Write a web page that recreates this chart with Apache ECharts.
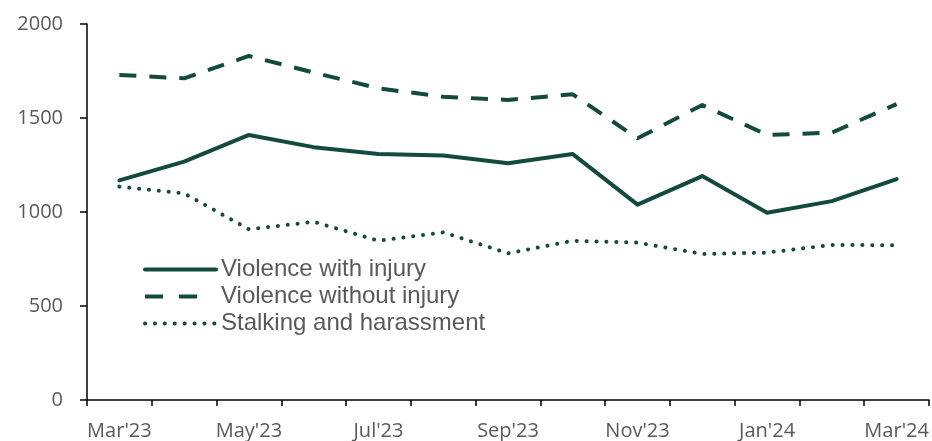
<!DOCTYPE html>
<html>
<head>
<meta charset="utf-8">
<script src="https://cdn.jsdelivr.net/npm/echarts@6/dist/echarts.min.js"></script>
<style>
html,body{margin:0;padding:0;background:#fff;}
#chart{width:932px;height:441px;}
</style>
</head>
<body>
<div id="chart"></div>
<script>
const categories = ["Mar'23","Apr'23","May'23","Jun'23","Jul'23","Aug'23","Sep'23","Oct'23","Nov'23","Dec'23","Jan'24","Feb'24","Mar'24"];
const violenceWithInjury = [1168, 1268, 1410, 1345, 1308, 1300, 1259, 1308, 1039, 1191, 996, 1058, 1175];
const violenceWithoutInjury = [1729, 1711, 1830, 1742, 1658, 1613, 1596, 1626, 1392, 1569, 1410, 1422, 1574];
const stalkingHarassment = [1135, 1099, 908, 948, 847, 892, 780, 847, 837, 777, 784, 825, 823];
const yTicks = [0, 500, 1000, 1500, 2000];

const green = '#124a3e';
const grey = '#595959';
const solidStyle = { color: green, width: 4, type: 'solid', cap: 'round', join: 'round' };
const dashStyle = { color: green, width: 4, type: [17, 13], cap: 'butt', join: 'round' };
const dotStyle = { color: green, width: 4, type: [0.1, 9.8], cap: 'round', join: 'round' };
const legendDashStyle = { color: green, width: 4, type: [18, 16, 18, 40], cap: 'butt' };

const chart = echarts.init(document.getElementById('chart'));
chart.setOption({
  animation: false,
  backgroundColor: '#fff',
  grid: { left: 87, right: 3, top: 24, bottom: 41, containLabel: false, outerBoundsMode: 'none' },
  legend: {
    orient: 'vertical',
    left: 143,
    top: 256,
    padding: 0,
    itemWidth: 71,
    itemHeight: 14,
    itemGap: 0,
    itemStyle: { opacity: 0 },
    textStyle: { fontFamily: 'Liberation Sans', fontSize: 24, color: grey, lineHeight: 27 },
    data: [
      { name: 'Violence with injury', lineStyle: solidStyle, itemStyle: { opacity: 0 } },
      { name: 'Violence without injury', lineStyle: legendDashStyle, itemStyle: { opacity: 0 } },
      { name: 'Stalking and harassment', lineStyle: dotStyle, itemStyle: { opacity: 0 } }
    ]
  },
  xAxis: {
    type: 'category',
    data: categories,
    boundaryGap: true,
    axisLine: { lineStyle: { color: '#000', width: 1.5 } },
    axisTick: { show: true, interval: 0, length: 6, lineStyle: { color: '#000', width: 1.5 } },
    axisLabel: { interval: 1, color: grey, fontFamily: 'Open Sans', fontSize: 20, margin: 21 },
    splitLine: { show: false }
  },
  yAxis: {
    type: 'value',
    min: yTicks[0],
    max: yTicks[yTicks.length - 1],
    interval: 500,
    axisLine: { show: true, lineStyle: { color: '#000', width: 1.5 } },
    axisTick: { show: true, length: 7, lineStyle: { color: '#000', width: 1.5 } },
    axisLabel: { color: grey, fontFamily: 'Open Sans', fontSize: 20, margin: 24, formatter: function (v) { return String(v); } },
    splitLine: { show: false }
  },
  series: [
    {
      name: 'Violence with injury', type: 'line', data: violenceWithInjury,
      symbol: 'none', color: green, lineStyle: solidStyle
    },
    {
      name: 'Violence without injury', type: 'line', data: violenceWithoutInjury,
      symbol: 'none', color: green, lineStyle: dashStyle
    },
    {
      name: 'Stalking and harassment', type: 'line', data: stalkingHarassment,
      symbol: 'none', color: green, lineStyle: dotStyle
    }
  ]
});
</script>
</body>
</html>
